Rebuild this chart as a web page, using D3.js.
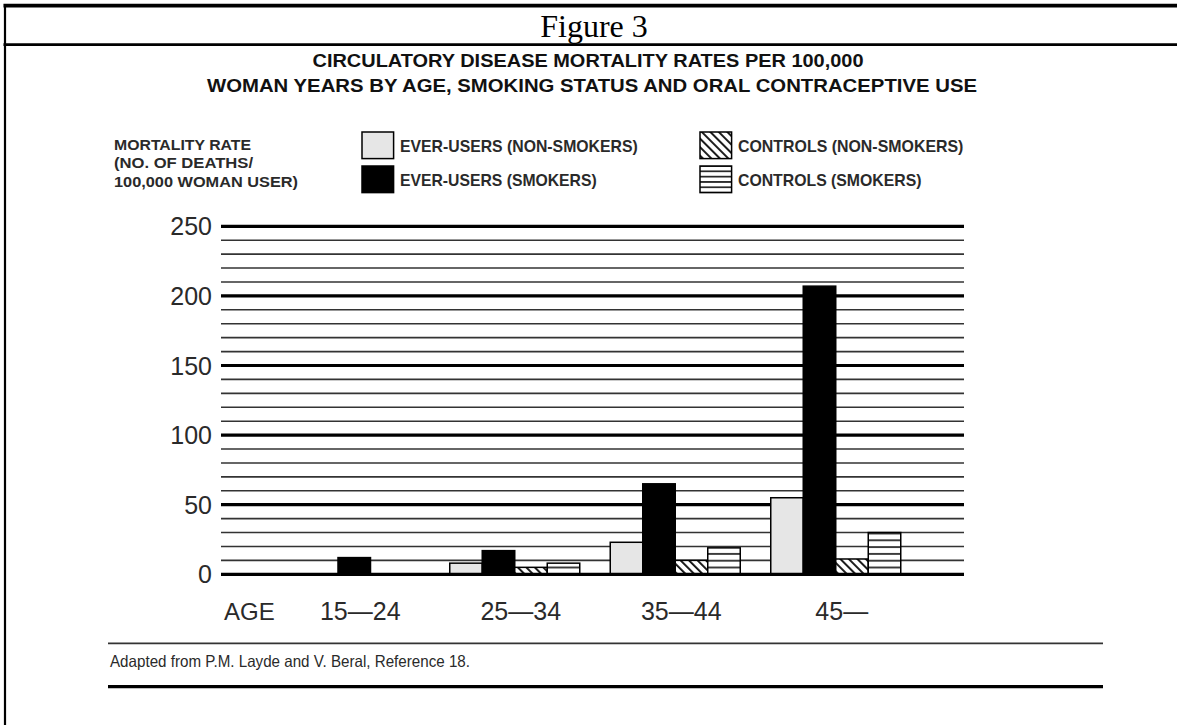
<!DOCTYPE html>
<html><head><meta charset="utf-8">
<script src="https://cdn.jsdelivr.net/npm/d3@7/dist/d3.min.js"></script>
<style>html,body{margin:0;padding:0;background:#fff}svg{display:block}</style>
</head><body>
<svg id="chart" width="1177" height="725"></svg>
<script>
// ---- data ----
const ages = ["15—24", "25—34", "35—44", "45—"];
const seriesKeys = ["everNon", "everSmk", "ctrlNon", "ctrlSmk"];
const seriesLabels = ["EVER-USERS (NON-SMOKERS)", "EVER-USERS (SMOKERS)", "CONTROLS (NON-SMOKERS)", "CONTROLS (SMOKERS)"];
const everUsersNonSmokers = [0, 8, 23, 55];
const everUsersSmokers = [12, 17, 65, 207];
const controlsNonSmokers = [0, 5, 10, 11];
const controlsSmokers = [0, 8, 19, 30];
const yTickLabels = [0, 50, 100, 150, 200, 250];
const yLabelLines = ["MORTALITY RATE", "(NO. OF DEATHS/", "100,000 WOMAN USER)"];
const titleLines = ["CIRCULATORY DISEASE MORTALITY RATES PER 100,000", "WOMAN YEARS BY AGE, SMOKING STATUS AND ORAL CONTRACEPTIVE USE"];
const figureLabel = "Figure 3";
const sourceNote = "Adapted from P.M. Layde and V. Beral, Reference 18.";

const seriesValues = [everUsersNonSmokers, everUsersSmokers, controlsNonSmokers, controlsSmokers];

// ---- layout ----
const svg = d3.select("#chart");
const W = 1177, H = 725;
const plotL = 221, plotR = 964;
const y = d3.scaleLinear().domain([0, 250]).range([574.3, 226.3]);
const x = d3.scaleBand().domain(ages).range([209, 981]).paddingInner(0.19).paddingOuter(0.5);
const barW = x.bandwidth() / seriesKeys.length;

const sansN = "'Liberation Sans Narrow','Arial Narrow','Liberation Sans',Arial,sans-serif";
const sans = "'Liberation Sans',Arial,Helvetica,sans-serif";

// patterns
const defs = svg.append("defs");
const diag = defs.append("pattern").attr("id", "diag").attr("patternUnits", "userSpaceOnUse")
  .attr("width", 6).attr("height", 6).attr("patternTransform", "rotate(-45)");
diag.append("rect").attr("width", 6).attr("height", 6).attr("fill", "#fff");
diag.append("rect").attr("width", 1.9).attr("height", 6).attr("fill", "#111");

const horiz = defs.append("pattern").attr("id", "horiz").attr("patternUnits", "userSpaceOnUse")
  .attr("width", 10).attr("height", 6.8).attr("patternTransform", `translate(0,${y(0)})`);
horiz.append("rect").attr("width", 10).attr("height", 6.8).attr("fill", "#fff");
horiz.append("rect").attr("y", -0.8).attr("width", 10).attr("height", 1.6).attr("fill", "#111");
horiz.append("rect").attr("y", 6.0).attr("width", 10).attr("height", 1.6).attr("fill", "#111");

const horizL = defs.append("pattern").attr("id", "horizL").attr("patternUnits", "userSpaceOnUse")
  .attr("width", 10).attr("height", 5.32).attr("patternTransform", "translate(0,166)");
horizL.append("rect").attr("width", 10).attr("height", 5.32).attr("fill", "#fff");
horizL.append("rect").attr("y", -0.8).attr("width", 10).attr("height", 1.6).attr("fill", "#111");
horizL.append("rect").attr("y", 4.52).attr("width", 10).attr("height", 1.6).attr("fill", "#111");

const fills = { everNon: "#e6e6e6", everSmk: "#000", ctrlNon: "url(#diag)", ctrlSmk: "url(#horiz)" };
const legendFills = { everNon: "#e6e6e6", everSmk: "#000", ctrlNon: "url(#diag)", ctrlSmk: "url(#horizL)" };

svg.append("rect").attr("width", W).attr("height", H).attr("fill", "#fff");

// ---- frame ----
svg.append("line").attr("x1", 3.5).attr("x2", W).attr("y1", 5.6).attr("y2", 5.6).attr("stroke", "#000").attr("stroke-width", 3.6);
svg.append("line").attr("x1", 3.5).attr("x2", W).attr("y1", 44.6).attr("y2", 44.6).attr("stroke", "#000").attr("stroke-width", 2.8);
svg.append("line").attr("x1", 5).attr("x2", 5).attr("y1", 4).attr("y2", H).attr("stroke", "#000").attr("stroke-width", 2.2);

svg.append("text").attr("x", 594).attr("y", 37).attr("text-anchor", "middle")
  .attr("font-family", "'Liberation Serif','Times New Roman',serif").attr("font-size", 32).attr("fill", "#000")
  .text(figureLabel);

// ---- title ----
const titleGeo = [{ cx: 588, y: 66.5, w: 551 }, { cx: 592, y: 91.5, w: 770 }];
svg.selectAll("text.title").data(titleLines).join("text").attr("class", "title")
  .attr("x", (d, i) => titleGeo[i].cx).attr("y", (d, i) => titleGeo[i].y)
  .attr("text-anchor", "middle").attr("font-family", sans).attr("font-weight", "bold")
  .attr("font-size", 18.5).attr("fill", "#111")
  .attr("textLength", (d, i) => titleGeo[i].w).attr("lengthAdjust", "spacingAndGlyphs")
  .text(d => d);

// ---- legend ----
const yLabW = [137, 139, 184];
svg.selectAll("text.ylab").data(yLabelLines).join("text").attr("class", "ylab")
  .attr("x", 114).attr("y", (d, i) => 150 + i * 18.3)
  .attr("font-family", sansN).attr("font-weight", "bold").attr("font-size", 14).attr("fill", "#2a2a2a")
  .attr("textLength", (d, i) => yLabW[i]).attr("lengthAdjust", "spacingAndGlyphs")
  .text(d => d);

const legGeo = [
  { bx: 362, by: 132, tw: 237.7 },
  { bx: 362, by: 166, tw: 196.7 },
  { bx: 700, by: 132, tw: 225.4 },
  { bx: 700, by: 166, tw: 183.5 }
];
const leg = svg.selectAll("g.leg").data(seriesKeys).join("g").attr("class", "leg");
leg.append("rect")
  .attr("x", (d, i) => legGeo[i].bx).attr("y", (d, i) => legGeo[i].by)
  .attr("width", 31.6).attr("height", 26.6)
  .attr("fill", d => legendFills[d]).attr("stroke", "#000").attr("stroke-width", 1.5);
leg.append("text")
  .attr("x", (d, i) => legGeo[i].bx + 38).attr("y", (d, i) => legGeo[i].by + 19.5)
  .attr("font-family", sansN).attr("font-weight", "bold").attr("font-size", 17).attr("fill", "#2a2a2a")
  .attr("textLength", (d, i) => legGeo[i].tw).attr("lengthAdjust", "spacingAndGlyphs")
  .text((d, i) => seriesLabels[i]);

// ---- grid ----
const gridTicks = d3.range(0, 251, 10);
svg.append("g").selectAll("line").data(gridTicks.filter(t => t > 0)).join("line")
  .attr("x1", plotL).attr("x2", plotR)
  .attr("y1", d => y(d)).attr("y2", d => y(d))
  .attr("stroke", d => d % 50 === 0 ? "#000" : "#333")
  .attr("stroke-width", d => d % 50 === 0 ? 3.2 : 1.6);

// y tick labels
svg.append("g").selectAll("text").data(yTickLabels).join("text")
  .attr("x", 212).attr("y", d => y(d)).attr("dy", "0.36em")
  .attr("text-anchor", "end").attr("font-family", sans).attr("font-size", 25).attr("fill", "#2a2a2a")
  .text(d => d);

// ---- bars ----
const groups = svg.append("g").selectAll("g").data(ages).join("g");
groups.each(function (age, gi) {
  const present = seriesKeys.filter((k, si) => seriesValues[si][gi] > 0);
  const cx = x(age) + x.bandwidth() / 2;
  const inner = d3.scaleBand().domain(present)
    .range([cx - present.length * barW / 2, cx + present.length * barW / 2]);
  d3.select(this).selectAll("rect").data(present).join("rect")
    .attr("x", k => inner(k)).attr("width", inner.bandwidth())
    .attr("y", k => y(seriesValues[seriesKeys.indexOf(k)][gi]))
    .attr("height", k => y(0) - y(seriesValues[seriesKeys.indexOf(k)][gi]))
    .attr("fill", k => fills[k]).attr("stroke", "#000").attr("stroke-width", 1.5);
});

// baseline
svg.append("line").attr("x1", plotL).attr("x2", plotR).attr("y1", y(0)).attr("y2", y(0))
  .attr("stroke", "#000").attr("stroke-width", 3.2);

// x labels
svg.append("text").attr("x", 224).attr("y", 620).attr("font-family", sans).attr("font-size", 24)
  .attr("fill", "#2a2a2a").text("AGE");
svg.append("g").selectAll("text").data(ages).join("text")
  .attr("x", d => x(d) + x.bandwidth() / 2 + 6).attr("y", 620)
  .attr("text-anchor", "middle").attr("font-family", sans).attr("font-size", 25).attr("fill", "#2a2a2a")
  .text(d => d);

// ---- footer ----
svg.append("line").attr("x1", 108).attr("x2", 1103).attr("y1", 643.3).attr("y2", 643.3).attr("stroke", "#333").attr("stroke-width", 1.8);
svg.append("text").attr("x", 110).attr("y", 667).attr("font-family", sans).attr("font-size", 16.5)
  .attr("fill", "#2a2a2a").attr("textLength", 360).attr("lengthAdjust", "spacingAndGlyphs").text(sourceNote);
svg.append("line").attr("x1", 108).attr("x2", 1103).attr("y1", 686.7).attr("y2", 686.7).attr("stroke", "#000").attr("stroke-width", 3.2);
</script>
</body></html>
